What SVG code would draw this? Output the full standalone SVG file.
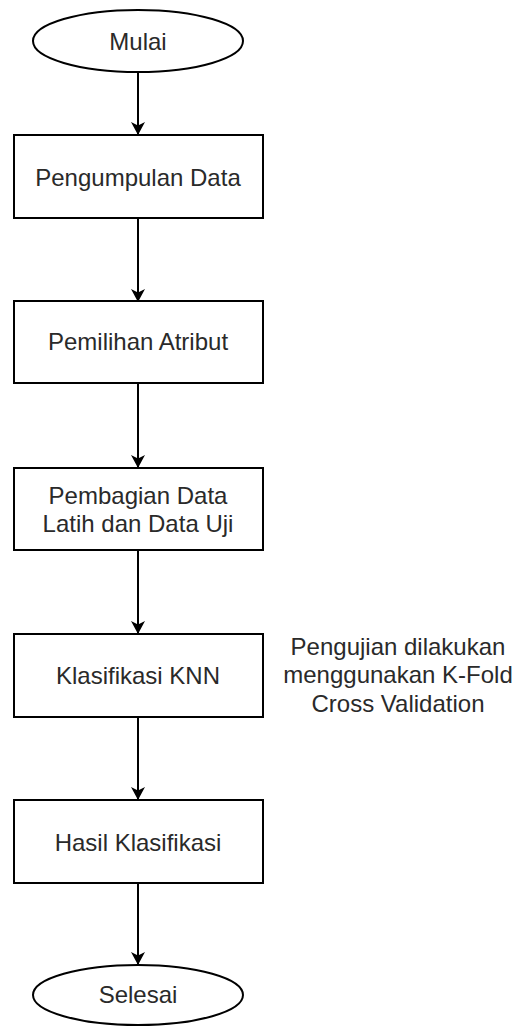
<svg xmlns="http://www.w3.org/2000/svg" width="520" height="1026" viewBox="0 0 520 1026">
<style>
.n{fill:#fff;stroke:#000;stroke-width:2}
.t{font-family:"Liberation Sans",Arial,sans-serif;font-size:24px;fill:#2a2a2a;text-anchor:middle}
.e{stroke:#000;stroke-width:2;fill:none}
</style>
<defs>
<marker id="ah" markerWidth="14" markerHeight="14" refX="12" refY="7" orient="auto" markerUnits="userSpaceOnUse"><path d="M0,0 L13,7 L0,14 L3.5,7 Z" fill="#000"/></marker>
</defs>
<rect width="520" height="1026" fill="#fff"/>
<g id="connectors">
<line class="e" x1="138" y1="72" x2="138" y2="134" marker-end="url(#ah)"/>
<line class="e" x1="138" y1="218" x2="138" y2="301" marker-end="url(#ah)"/>
<line class="e" x1="138" y1="383" x2="138" y2="467" marker-end="url(#ah)"/>
<line class="e" x1="138" y1="550" x2="138" y2="633" marker-end="url(#ah)"/>
<line class="e" x1="138" y1="717" x2="138" y2="799" marker-end="url(#ah)"/>
<line class="e" x1="138" y1="883" x2="138" y2="964" marker-end="url(#ah)"/>
</g>
<g id="mulai"><ellipse class="n" cx="138" cy="41" rx="105" ry="31"/><text class="t" x="138" y="50">Mulai</text></g>
<g id="pengumpulan"><rect class="n" x="14" y="135" width="249" height="83"/><text class="t" x="138" y="186">Pengumpulan Data</text></g>
<g id="pemilihan"><rect class="n" x="14" y="301" width="249" height="82"/><text class="t" x="138" y="350">Pemilihan Atribut</text></g>
<g id="pembagian"><rect class="n" x="14" y="468" width="249" height="82"/><text class="t" x="138" y="504">Pembagian Data</text><text class="t" x="138" y="532">Latih dan Data Uji</text></g>
<g id="klasifikasi"><rect class="n" x="14" y="634" width="249" height="83"/><text class="t" x="138" y="684">Klasifikasi KNN</text></g>
<g id="hasil"><rect class="n" x="14" y="800" width="249" height="83"/><text class="t" x="138" y="851">Hasil Klasifikasi</text></g>
<g id="selesai"><ellipse class="n" cx="138" cy="995" rx="105" ry="30"/><text class="t" x="138" y="1003">Selesai</text></g>
<g id="catatan"><text class="t" x="398" y="655">Pengujian dilakukan</text><text class="t" x="398" y="683">menggunakan K-Fold</text><text class="t" x="398" y="712">Cross Validation</text></g>
</svg>
